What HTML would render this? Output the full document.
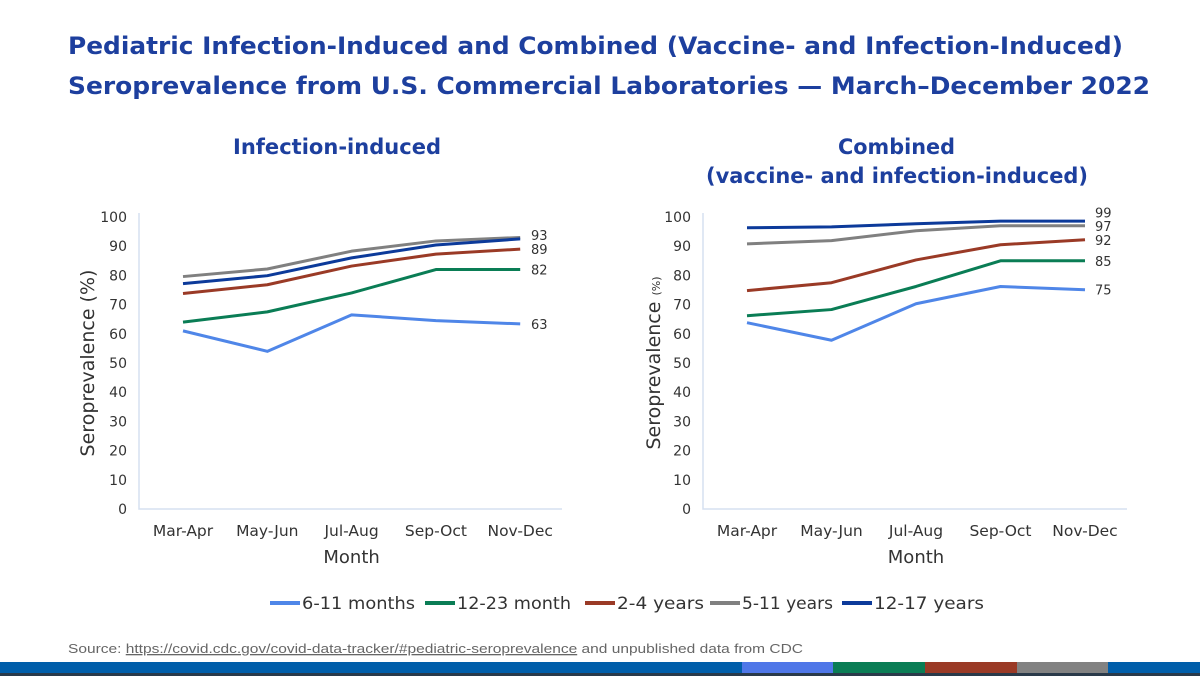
<!DOCTYPE html>
<html><head><meta charset="utf-8"><style>
body{margin:0;width:1200px;height:676px;background:#fff;overflow:hidden;font-family:"DejaVu Sans","Liberation Sans",sans-serif;}
svg{display:block}
</style></head><body>
<svg id="s" width="1200" height="676" xmlns="http://www.w3.org/2000/svg">
<text x="68" y="54" font-size="24" font-weight="bold" fill="#1d3f9e" textLength="1055" lengthAdjust="spacingAndGlyphs">Pediatric Infection-Induced and Combined (Vaccine- and Infection-Induced)</text>
<text x="68" y="94" font-size="24" font-weight="bold" fill="#1d3f9e" textLength="1082" lengthAdjust="spacingAndGlyphs">Seroprevalence from U.S. Commercial Laboratories — March–December 2022</text>
<text x="233" y="154" font-size="21" font-weight="bold" fill="#1d3f9e" textLength="208" lengthAdjust="spacingAndGlyphs">Infection-induced</text>
<text x="838" y="154" font-size="21" font-weight="bold" fill="#1d3f9e" textLength="117" lengthAdjust="spacingAndGlyphs">Combined</text>
<text x="706" y="183" font-size="21" font-weight="bold" fill="#1d3f9e" textLength="382" lengthAdjust="spacingAndGlyphs">(vaccine- and infection-induced)</text>
<g id="legend"></g>
<text x="68" y="653" font-size="13" fill="#666" textLength="735" lengthAdjust="spacingAndGlyphs" font-family="Liberation Sans Narrow, Liberation Sans, sans-serif">Source: <tspan text-decoration="underline">https://covid.cdc.gov/covid-data-tracker/#pediatric-seroprevalence</tspan> and unpublished data from CDC</text>
<rect x="0" y="662" width="1200" height="11" fill="#005eaa"/>
<rect x="742" y="662" width="91" height="11" fill="#4f77e8"/>
<rect x="833" y="662" width="92" height="11" fill="#0a7d55"/>
<rect x="925" y="662" width="92" height="11" fill="#9a3a26"/>
<rect x="1017" y="662" width="91" height="11" fill="#828282"/>
<rect x="0" y="673" width="1200" height="3" fill="#2a3a4a"/>
</svg>
<script>
const categories=["Mar-Apr","May-Jun","Jul-Aug","Sep-Oct","Nov-Dec"];
const seriesNames=["6-11 months","12-23 month","2-4 years","5-11 years","12-17 years"];
const colors=["#4f86e8","#0a7d55","#9a3a26","#808080","#0c3a9a"];
const yTicks=[0,10,20,30,40,50,60,70,80,90,100];
const inf611=[61,54,66.5,64.5,63.4];
const inf1223=[64,67.5,74,82,82];
const inf24=[73.8,76.8,83.2,87.3,89];
const inf511=[79.6,82.2,88.3,91.8,93];
const inf1217=[77.2,79.9,86,90.4,92.5];
const infLabels=["63","82","89","93"];
const comb611=[63.8,57.8,70.3,76.2,75.1];
const comb1223=[66.2,68.3,76.2,85,85];
const comb24=[74.8,77.5,85.3,90.5,92.2];
const comb511=[90.8,91.9,95.3,97,97];
const comb1217=[96.3,96.6,97.7,98.6,98.6];
const combLabels=["75","85","92","97","99"];
const NS="http://www.w3.org/2000/svg";
const svg=document.getElementById('s');
function el(t,a,p){const e=document.createElementNS(NS,t);for(const k in a)e.setAttribute(k,a[k]);(p||svg).appendChild(e);return e;}
function chart(cfg){
  const g=el('g',{});
  
  
  const y=v=>cfg.y0-(cfg.y0-cfg.y100)*v/100;
  const x=i=>cfg.x0+cfg.step*i;
  const ax=el('path',{d:`M${cfg.ax},${cfg.y100-4}V${cfg.y0}H${cfg.right}`,stroke:'#d6e0f0','stroke-width':1.5,fill:'none'},g);
  
  
  yTicks.forEach(t=>{const tx=el('text',{x:cfg.ax-12,y:y(t)+5,'font-size':14,fill:'#333','text-anchor':'end'},g);tx.textContent=t;
    
    });
  categories.forEach((c,i)=>{const tx=el('text',{x:x(i),y:cfg.y0+27,'font-size':15.5,fill:'#333','text-anchor':'middle'},g);tx.textContent=c;
    
    });
  const xt=el('text',{x:(cfg.x0+x(4))/2,y:cfg.y0+54,'font-size':18,fill:'#333','text-anchor':'middle'},g);xt.textContent='Month';
  
  
  const yt=el('text',{transform:`translate(${cfg.ytx},${(cfg.y0+cfg.y100)/2}) rotate(-90)`,'font-size':19,fill:'#333','text-anchor':'middle'},g);
  yt.innerHTML=cfg.small?'Seroprevalence <tspan font-size="11">(%)</tspan>':'Seroprevalence (%)';
  
  
  cfg.series.forEach((s,k)=>{
    const p=el('polyline',{points:s.map((v,i)=>x(i)+','+y(v)).join(' '),fill:'none',stroke:colors[k],'stroke-width':3,'stroke-linejoin':'round'},g);
    
    
  });
  cfg.labels.forEach((l,k)=>{const tx=el('text',{x:cfg.lx,y:y(cfg.labelPos[k])+5,'font-size':13,fill:'#333'},g);tx.textContent=l;
    
    });
}
chart({name:'infection-induced-chart',ax:139,right:562,x0:183,step:84.3,y0:509,y100:217,ytx:94,lx:531,
  series:[inf611,inf1223,inf24,inf511,inf1217],labels:infLabels,labelPos:[63.4,82,89,93.8],small:false});
chart({name:'combined-chart',ax:703,right:1127,x0:747,step:84.5,y0:509,y100:217,ytx:660,lx:1095,
  series:[comb611,comb1223,comb24,comb511,comb1217],labels:combLabels,labelPos:[75.1,85,92.2,97,101.5],small:true});
const lg=document.getElementById('legend');
const lx=[270,425,585,710,842];
const lw=[113,114,87,91,110];
seriesNames.forEach((n,k)=>{
  const ln=el('line',{x1:lx[k],x2:lx[k]+30,y1:603,y2:603,stroke:colors[k],'stroke-width':4},lg);
  
  
  const t=el('text',{x:lx[k]+32,y:609,'font-size':17,fill:'#333',textLength:lw[k],lengthAdjust:'spacingAndGlyphs'},lg);t.textContent=n;
  
  
});
</script>
</body></html>
